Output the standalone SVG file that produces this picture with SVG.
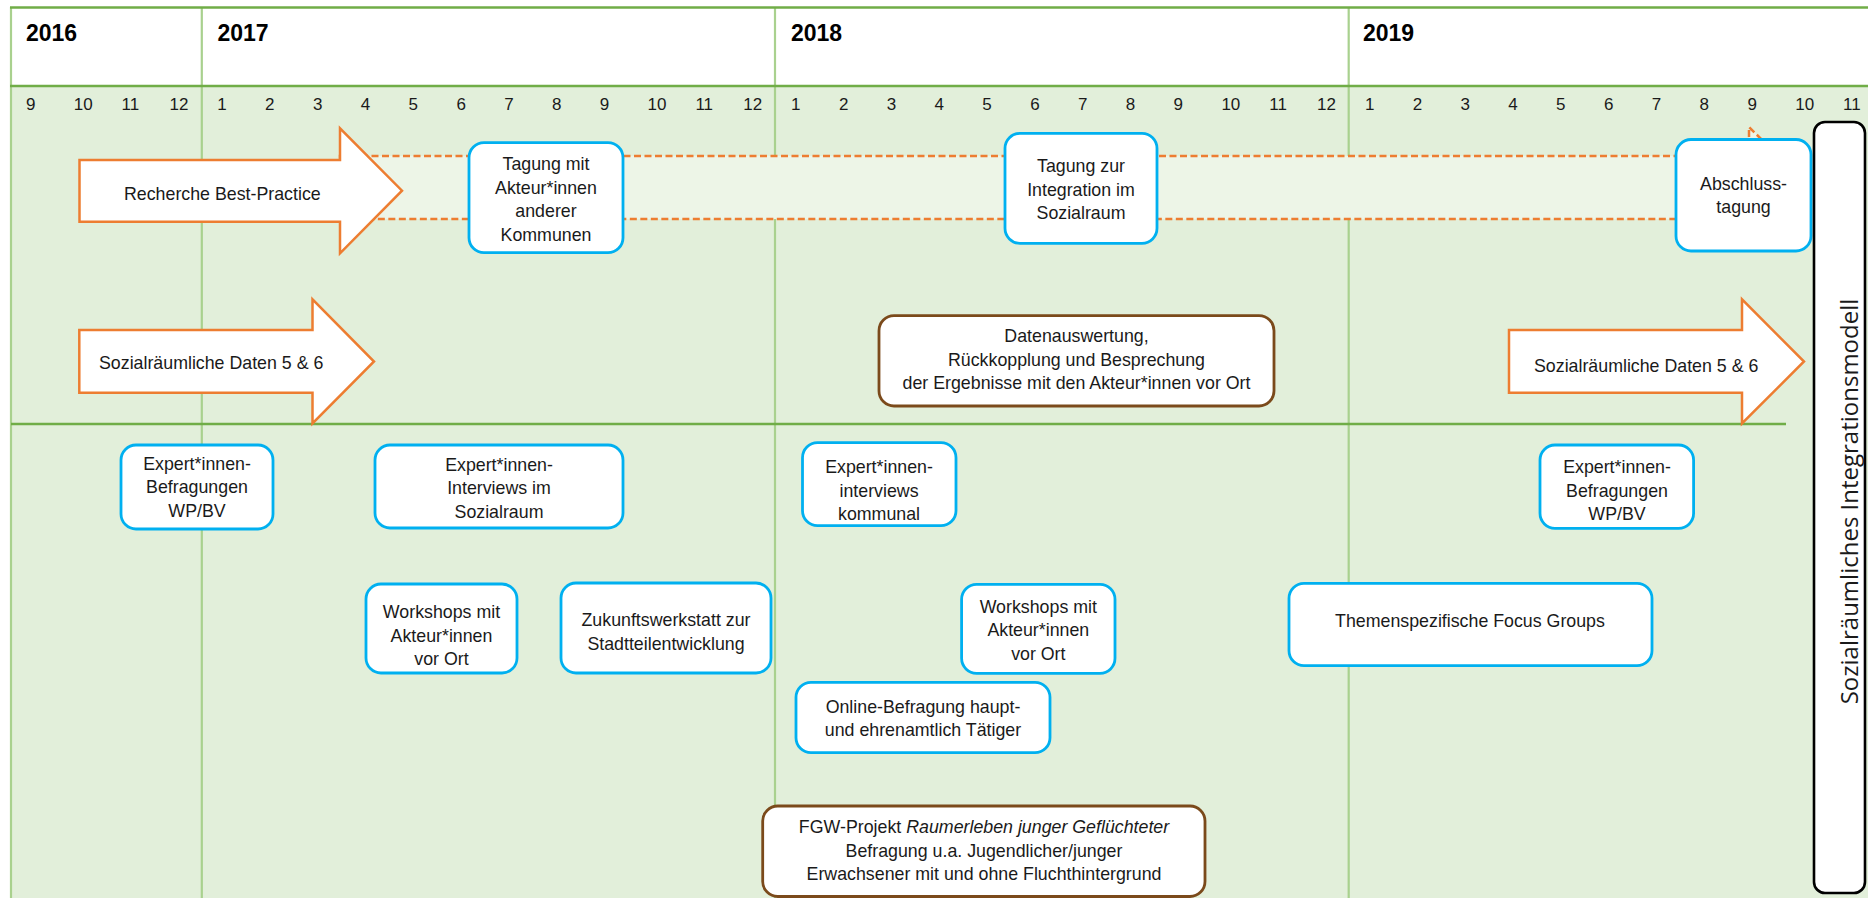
<svg xmlns="http://www.w3.org/2000/svg" width="1868" height="898" viewBox="0 0 1868 898">
<defs>
<style>
.box{fill:#fff;stroke:#00b0f0;stroke-width:2.8}
.bbox{fill:#fff;stroke:#7b4a1b;stroke-width:2.8}
.arr{fill:#fff;stroke:#ed7d31;stroke-width:2.5;stroke-linejoin:miter}
.t{font-family:"Liberation Sans",Arial,sans-serif;font-size:17.8px;fill:#1a1a1a;text-anchor:middle}
.ts{font-family:"Liberation Sans",Arial,sans-serif;font-size:17.8px;fill:#1a1a1a;text-anchor:start}
.m{font-family:"Liberation Sans",Arial,sans-serif;font-size:17px;fill:#1a1a1a}
.y{font-family:"Liberation Sans",Arial,sans-serif;font-size:23px;font-weight:bold;fill:#000}
.gl{stroke:#70ad47;stroke-width:2.6;fill:none}
.vl{stroke:#a9d18e;stroke-width:2.2;fill:none}
</style>
</defs>
<rect x="0" y="0" width="1868" height="898" fill="#ffffff"/>
<g id="grid">
<rect x="11" y="86" width="1857" height="812" fill="#e2efda"/>
<line class="vl" x1="11" y1="7" x2="11" y2="898"/>
<line class="vl" x1="201.8" y1="7" x2="201.8" y2="898"/>
<line class="vl" x1="775" y1="7" x2="775" y2="898"/>
<line class="vl" x1="1348.7" y1="7" x2="1348.7" y2="898"/>
<line class="gl" x1="10" y1="7.5" x2="1868" y2="7.5"/>
<line class="gl" x1="10" y1="86" x2="1868" y2="86"/>
<line class="gl" x1="11" y1="424" x2="1786" y2="424"/>
</g>
<g id="years">
<text class="y" x="26" y="41">2016</text>
<text class="y" x="217.4" y="41">2017</text>
<text class="y" x="791" y="41">2018</text>
<text class="y" x="1363" y="41">2019</text>
</g>
<g id="months" class="m">
<text x="26" y="110">9</text>
<text x="73.8" y="110">10</text>
<text x="121.6" y="110">11</text>
<text x="169.5" y="110">12</text>
<text x="217.3" y="110">1</text>
<text x="265.1" y="110">2</text>
<text x="312.9" y="110">3</text>
<text x="360.7" y="110">4</text>
<text x="408.6" y="110">5</text>
<text x="456.4" y="110">6</text>
<text x="504.2" y="110">7</text>
<text x="552" y="110">8</text>
<text x="599.8" y="110">9</text>
<text x="647.6" y="110">10</text>
<text x="695.4" y="110">11</text>
<text x="743.3" y="110">12</text>
<text x="791.1" y="110">1</text>
<text x="838.9" y="110">2</text>
<text x="886.7" y="110">3</text>
<text x="934.5" y="110">4</text>
<text x="982.3" y="110">5</text>
<text x="1030.2" y="110">6</text>
<text x="1078" y="110">7</text>
<text x="1125.8" y="110">8</text>
<text x="1173.6" y="110">9</text>
<text x="1221.4" y="110">10</text>
<text x="1269.2" y="110">11</text>
<text x="1317" y="110">12</text>
<text x="1364.9" y="110">1</text>
<text x="1412.7" y="110">2</text>
<text x="1460.5" y="110">3</text>
<text x="1508.3" y="110">4</text>
<text x="1556.1" y="110">5</text>
<text x="1603.9" y="110">6</text>
<text x="1651.8" y="110">7</text>
<text x="1699.6" y="110">8</text>
<text x="1747.4" y="110">9</text>
<text x="1795.2" y="110">10</text>
<text x="1843" y="110">11</text>
</g>
<g id="connectors">
<polygon points="340,156 1749,156 1749,127 1810,187.5 1749,248 1749,219 340,219" fill="#edf5e7" stroke="#ed7d31" stroke-width="2.5" stroke-dasharray="7 3.5"/>
</g>
<g id="recherche">
<polygon class="arr" points="79.5,160 340,160 340,128.3 402,190.7 340,253.3 340,221.7 79.5,221.7"/>
<text class="ts" x="124" y="200">Recherche Best-Practice</text>
</g>
<g id="daten-left">
<polygon class="arr" points="79.3,330 312.5,330 312.5,299.3 374,361.5 312.5,423.5 312.5,392.7 79.3,392.7"/>
<text class="ts" x="99" y="369.3">Sozialräumliche Daten 5 &amp; 6</text>
</g>
<g id="daten-right">
<polygon class="arr" points="1509,330 1742,330 1742,299.3 1804,361.5 1742,423.5 1742,392.7 1509,392.7"/>
<text class="ts" x="1534" y="371.5">Sozialräumliche Daten 5 &amp; 6</text>
</g>
<g id="tagung-kommunen">
<rect class="box" x="469" y="142.7" width="154" height="110" rx="15"/>
<text class="t" x="546" y="170">Tagung mit</text>
<text class="t" x="546" y="193.5">Akteur*innen</text>
<text class="t" x="546" y="217">anderer</text>
<text class="t" x="546" y="240.5">Kommunen</text>
</g>
<g id="tagung-integration">
<rect class="box" x="1005" y="133.3" width="152" height="110" rx="15"/>
<text class="t" x="1081" y="172">Tagung zur</text>
<text class="t" x="1081" y="195.5">Integration im</text>
<text class="t" x="1081" y="219">Sozialraum</text>
</g>
<g id="abschluss">
<rect class="box" x="1676" y="139.5" width="135" height="111.5" rx="15"/>
<text class="t" x="1743.5" y="189.5">Abschluss-</text>
<text class="t" x="1743.5" y="213">tagung</text>
</g>
<g id="datenauswertung">
<rect class="bbox" x="879" y="315.7" width="395" height="90.3" rx="15"/>
<text class="t" x="1076.5" y="342.3">Datenauswertung,</text>
<text class="t" x="1076.5" y="365.7">Rückkopplung und Besprechung</text>
<text class="t" x="1076.5" y="389.3">der Ergebnisse mit den Akteur*innen vor Ort</text>
</g>
<g id="expert-wpbv-1">
<rect class="box" x="121" y="445" width="152" height="84" rx="15"/>
<text class="t" x="197" y="469.5">Expert*innen-</text>
<text class="t" x="197" y="493">Befragungen</text>
<text class="t" x="197" y="516.5">WP/BV</text>
</g>
<g id="expert-sozialraum">
<rect class="box" x="375" y="445" width="248" height="83" rx="15"/>
<text class="t" x="499" y="470.5">Expert*innen-</text>
<text class="t" x="499" y="494">Interviews im</text>
<text class="t" x="499" y="517.5">Sozialraum</text>
</g>
<g id="expert-kommunal">
<rect class="box" x="802.5" y="442.7" width="153.5" height="83" rx="15"/>
<text class="t" x="879" y="473">Expert*innen-</text>
<text class="t" x="879" y="496.5">interviews</text>
<text class="t" x="879" y="520">kommunal</text>
</g>
<g id="expert-wpbv-2">
<rect class="box" x="1540" y="445" width="153.6" height="83.3" rx="15"/>
<text class="t" x="1617" y="473">Expert*innen-</text>
<text class="t" x="1617" y="496.5">Befragungen</text>
<text class="t" x="1617" y="520">WP/BV</text>
</g>
<g id="workshops-1">
<rect class="box" x="366" y="584" width="151" height="89" rx="15"/>
<text class="t" x="441.5" y="618">Workshops mit</text>
<text class="t" x="441.5" y="641.5">Akteur*innen</text>
<text class="t" x="441.5" y="665">vor Ort</text>
</g>
<g id="zukunftswerkstatt">
<rect class="box" x="561" y="583" width="210" height="90" rx="15"/>
<text class="t" x="666" y="626">Zukunftswerkstatt zur</text>
<text class="t" x="666" y="649.5">Stadtteilentwicklung</text>
</g>
<g id="workshops-2">
<rect class="box" x="961.6" y="584.3" width="153.4" height="89" rx="15"/>
<text class="t" x="1038.3" y="612.7">Workshops mit</text>
<text class="t" x="1038.3" y="636">Akteur*innen</text>
<text class="t" x="1038.3" y="659.5">vor Ort</text>
</g>
<g id="online-befragung">
<rect class="box" x="796" y="682.3" width="254" height="70.4" rx="15"/>
<text class="t" x="923" y="712.7">Online-Befragung haupt-</text>
<text class="t" x="923" y="736">und ehrenamtlich Tätiger</text>
</g>
<g id="focus-groups">
<rect class="box" x="1289" y="583.3" width="363" height="82.4" rx="15"/>
<text class="t" x="1470" y="626.7">Themenspezifische Focus Groups</text>
</g>
<g id="fgw-projekt">
<rect class="bbox" x="762.7" y="806" width="442.3" height="90.5" rx="15"/>
<text class="t" x="984" y="833.3">FGW-Projekt <tspan font-style="italic">Raumerleben junger Geflüchteter</tspan></text>
<text class="t" x="984" y="856.5">Befragung u.a. Jugendlicher/junger</text>
<text class="t" x="984" y="880">Erwachsener mit und ohne Fluchthintergrund</text>
</g>
<g id="integrationsmodell">
<rect x="1814" y="122" width="51" height="771" rx="11" fill="#fff" stroke="#000" stroke-width="2.6"/>
<text x="0" y="0" transform="translate(1857.5,501.5) rotate(-90)" font-family="'Open Sans','Noto Sans',sans-serif" font-size="24px" fill="#1a1a1a" text-anchor="middle">Sozialräumliches Integrationsmodell</text>
</g>
</svg>
